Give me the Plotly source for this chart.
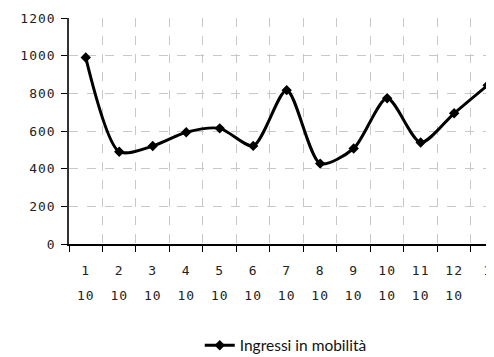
import plotly.graph_objects as go

months = ["1", "2", "3", "4", "5", "6", "7", "8", "9", "10", "11", "12", "1"]
years = ["10", "10", "10", "10", "10", "10", "10", "10", "10", "10", "10", "10", "11"]
ingressi = [990, 490, 520, 593, 614, 521, 817, 427, 507, 774, 539, 694, 843]
y_ticks = [0, 200, 400, 600, 800, 1000, 1200]
series_name = "Ingressi in mobilità"

pos = list(range(len(months)))
xr = [-0.5, 12.19]


def spaced(s):
    return '<span style="letter-spacing:1px">' + s + '</span>'


fig = go.Figure()
fig.add_trace(go.Scatter(
    x=pos, y=ingressi, name=series_name, mode="lines+markers",
    line=dict(color="black", width=3, shape="spline", smoothing=0.75),
    marker=dict(symbol="diamond", size=8, color="black"),
))
fig.add_trace(go.Scatter(
    x=pos, y=ingressi, xaxis="x2", mode="lines", showlegend=False,
    line=dict(color="rgba(0,0,0,0)"), hoverinfo="skip",
))

tickfont = dict(family="DejaVu Sans Mono", size=13, color="#222")
fig.update_layout(
    template="none",
    width=486, height=349,
    margin=dict(l=61, r=0, t=10, b=113, autoexpand=False),
    plot_bgcolor="white", paper_bgcolor="white",
    showlegend=True,
    legend=dict(orientation="h", x=0.51, xanchor="center", y=-0.45, yanchor="middle",
                font=dict(family="Lato", size=15.5, color="#111")),
    xaxis=dict(
        range=xr, tickvals=pos, ticktext=[spaced(m) for m in months], ticks="", ticklen=0,
        showgrid=False, zeroline=False, showline=True, linecolor="black", linewidth=1.5,
        tickfont=tickfont, ticklabelstandoff=14, automargin=False,
        minor=dict(tick0=-0.5, dtick=1, ticks="outside", ticklen=6, tickcolor="black",
                   showgrid=True, gridcolor="#c8c8c8", griddash="dash", gridwidth=1),
    ),
    xaxis2=dict(
        range=xr, overlaying="x", side="bottom", anchor="y", automargin=False,
        tickvals=pos, ticktext=[spaced(y) for y in years], ticks="", showgrid=False,
        zeroline=False, showline=False, tickfont=tickfont, ticklabelstandoff=42,
    ),
    yaxis=dict(
        range=[0, 1200], tickvals=y_ticks, ticktext=[spaced(str(v)) for v in y_ticks],
        ticks="outside", ticklen=6, tickcolor="black",
        showgrid=True, gridcolor="#c8c8c8", griddash="dash", gridwidth=1,
        zeroline=False, showline=True, linecolor="#333", linewidth=1.5,
        tickfont=tickfont, automargin=False, ticklabelstandoff=3,
    ),
)

fig.write_html("out.html")
